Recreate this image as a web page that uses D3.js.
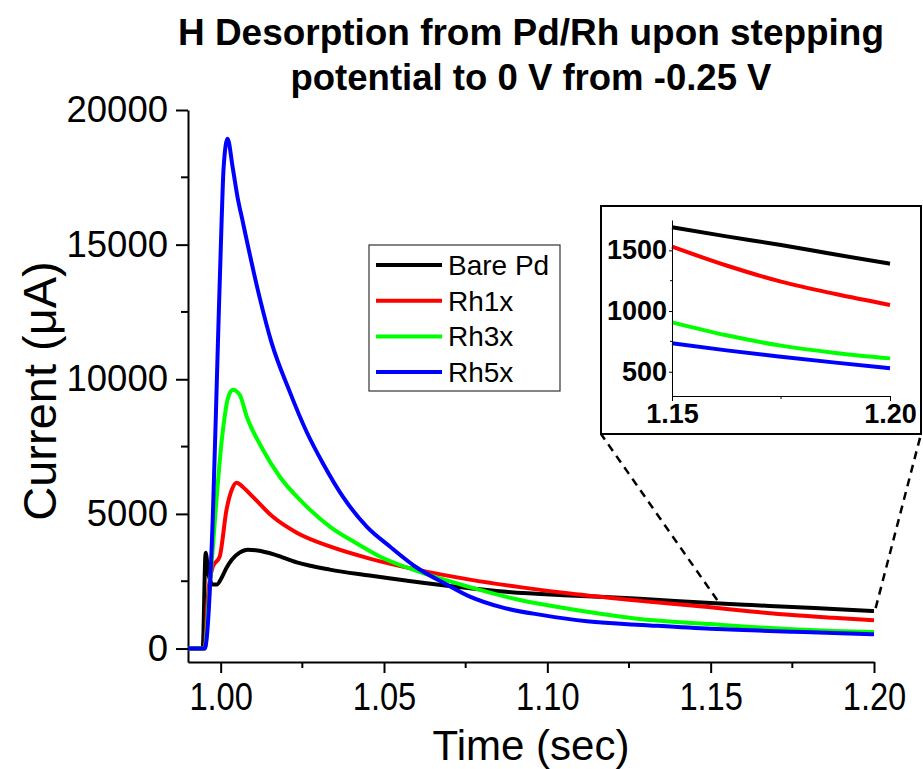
<!DOCTYPE html>
<html>
<head>
<meta charset="utf-8">
<script src="https://cdn.jsdelivr.net/npm/d3@7"></script>
<style>
  body { margin: 0; background: #fff; }
  svg { font-family: Arial, "Liberation Sans", sans-serif; }
</style>
</head>
<body>
<svg id="chart" width="923" height="769"></svg>
<script>
// values
const names = ['Bare Pd', 'Rh1x', 'Rh3x', 'Rh5x']
const colors = ['#000000', '#ff0000', '#00ff00', '#0000ff']

const tBare = [0.99, 0.9945, 0.9954, 0.9963, 0.9976, 0.9988, 1.0003, 1.0018, 1.0034, 1.0058, 1.0083, 1.0113, 1.0165, 1.0233, 1.0334, 1.0456, 1.0662, 1.0864, 1.1069, 1.1283, 1.15, 1.1625, 1.175, 1.1875, 1.20]
const iBare = [0, 0, 3560, 2750, 2375, 2375, 2630, 3000, 3300, 3560, 3670, 3640, 3490, 3200, 2930, 2710, 2375, 2115, 1970, 1850, 1690, 1615, 1544, 1465, 1390]

const tRh1 = [0.99, 0.9951, 0.996, 0.9976, 0.9997, 1.0018, 1.0034, 1.0049, 1.0067, 1.0098, 1.0159, 1.0233, 1.0334, 1.0456, 1.06, 1.0763, 1.0916, 1.1069, 1.1283, 1.15, 1.1625, 1.175, 1.1875, 1.20]
const iRh1 = [0, 0, 1800, 3040, 3410, 5160, 5900, 6160, 6010, 5640, 4900, 4300, 3790, 3340, 2930, 2560, 2280, 2040, 1770, 1530, 1375, 1242, 1140, 1050]

const tRh3 = [0.99, 0.9951, 0.9966, 1.0006, 1.0021, 1.0037, 1.0058, 1.008, 1.0129, 1.0181, 1.0251, 1.0334, 1.0417, 1.0487, 1.06, 1.0763, 1.0916, 1.1069, 1.1283, 1.15, 1.1625, 1.175, 1.1875, 1.20]
const iRh3 = [0, 0, 2190, 8020, 9240, 9610, 9430, 8610, 7390, 6380, 5420, 4530, 3900, 3420, 2880, 2280, 1800, 1470, 1100, 907, 800, 715, 655, 610]

const tRh5 = [0.99, 0.9951, 0.9976, 0.9991, 1.0003, 1.0009, 1.0021, 1.0037, 1.0052, 1.0067, 1.008, 1.0119, 1.0156, 1.0211, 1.0263, 1.0312, 1.0374, 1.0447, 1.0518, 1.06, 1.0692, 1.0763, 1.0864, 1.0986, 1.1121, 1.1314, 1.15, 1.1625, 1.175, 1.1875, 1.20]
const iRh5 = [0, 0, 4900, 11100, 15920, 17850, 18930, 17850, 16740, 15890, 15150, 13050, 11350, 9550, 8050, 6900, 5640, 4530, 3790, 3010, 2380, 1930, 1520, 1240, 1010, 860, 734, 676, 624, 575, 528]

const xTicks = [1.00, 1.05, 1.10, 1.15, 1.20]
const xMinor = [1.025, 1.075, 1.125, 1.175]
const yTicks = [0, 5000, 10000, 15000, 20000]
const yMinor = [2500, 7500, 12500, 17500]
const insetYTicks = [500, 1000, 1500]
const insetYMinor = [750, 1250]
const insetXTicks = [1.15, 1.20]
const insetXMinor = [1.175]

const series = [
  {name: names[0], color: colors[0], t: tBare, i: iBare},
  {name: names[1], color: colors[1], t: tRh1, i: iRh1},
  {name: names[2], color: colors[2], t: tRh3, i: iRh3},
  {name: names[3], color: colors[3], t: tRh5, i: iRh5}
].map(s => ({...s, pts: s.t.map((t, k) => [t, s.i[k]])}))

const svg = d3.select('#chart')

let x = d3.scaleLinear().domain([0.99, 1.20]).range([188, 874])
let y = d3.scaleLinear().domain([-500, 20000]).range([662, 110])

// main axes
let xAxis = svg.append('g').attr('transform', 'translate(0,662)')
  .call(d3.axisBottom(x).tickValues(xTicks).tickFormat(d3.format('.2f')).tickSize(11).tickPadding(10).tickSizeOuter(0))
xAxis.append('g').selectAll('line').data(xMinor).enter().append('line')
  .attr('x1', d => x(d)).attr('x2', d => x(d)).attr('y1', 0).attr('y2', 6)
  .attr('stroke', '#000').attr('stroke-width', 2)
xAxis.selectAll('.tick text').attr('font-size', 38).attr('fill', '#000')
  .attr('transform', 'scale(0.86,1)')

let yAxis = svg.append('g').attr('transform', 'translate(188,0)')
  .call(d3.axisLeft(y).tickValues(yTicks).tickFormat(d3.format('d')).tickSize(12).tickPadding(8).tickSizeOuter(0))
yAxis.append('g').selectAll('line').data(yMinor).enter().append('line')
  .attr('y1', d => y(d)).attr('y2', d => y(d)).attr('x1', 0).attr('x2', -7)
  .attr('stroke', '#000').attr('stroke-width', 2)
yAxis.selectAll('.tick text').attr('font-size', 36.5).attr('fill', '#000')

svg.selectAll('.domain, .tick line').attr('stroke', '#000').attr('stroke-width', 2)

let line = d3.line().x(d => x(d[0])).y(d => y(d[1])).curve(d3.curveMonotoneX)

svg.append('g').selectAll('path').data(series).enter().append('path')
  .attr('d', d => line(d.pts))
  .attr('fill', 'none')
  .attr('stroke', d => d.color)
  .attr('stroke-width', 4)
  .attr('stroke-linejoin', 'round')

// titles
svg.append('text').attr('x', 531).attr('y', 45).attr('text-anchor', 'middle')
  .attr('font-size', 37).attr('font-weight', 'bold')
  .attr('textLength', 706).attr('lengthAdjust', 'spacingAndGlyphs')
  .text('H Desorption from Pd/Rh upon stepping')
svg.append('text').attr('x', 531).attr('y', 90).attr('text-anchor', 'middle')
  .attr('font-size', 37).attr('font-weight', 'bold')
  .attr('textLength', 481).attr('lengthAdjust', 'spacingAndGlyphs')
  .text('potential to 0 V from -0.25 V')

svg.append('text').attr('x', 531).attr('y', 760).attr('text-anchor', 'middle')
  .attr('font-size', 42).text('Time (sec)')
svg.append('text').attr('transform', 'translate(56,391) rotate(-90)').attr('text-anchor', 'middle')
  .attr('font-size', 47).text('Current (\u03bcA)')

// legend
let legend = svg.append('g').attr('transform', 'translate(369,245)')
legend.append('rect').attr('width', 191).attr('height', 146)
  .attr('fill', '#fff').attr('stroke', '#333').attr('stroke-width', 1.2)
let items = legend.selectAll('.item').data(series).enter().append('g')
  .attr('transform', (d, k) => `translate(0,${20 + k * 35.7})`)
items.append('line').attr('x1', 7).attr('x2', 73).attr('stroke', d => d.color).attr('stroke-width', 4)
items.append('text').attr('x', 79).attr('y', 10).attr('font-size', 28).text(d => d.name)

// zoom connectors
let ix = d3.scaleLinear().domain([1.15, 1.20]).range([672, 890])
let iy = d3.scaleLinear().domain([300, 1750]).range([396, 220])

let connectors = [
  [[x(1.152), y(1800)], [601, 434]],
  [[x(1.2005), y(1500)], [921, 434]]
]
svg.append('g').selectAll('line').data(connectors).enter().append('line')
  .attr('x1', d => d[0][0]).attr('y1', d => d[0][1])
  .attr('x2', d => d[1][0]).attr('y2', d => d[1][1])
  .attr('stroke', '#000').attr('stroke-width', 2.5).attr('stroke-dasharray', '8,6')

// inset
let inset = svg.append('g')
inset.append('rect').attr('x', 601).attr('y', 206).attr('width', 320).attr('height', 228)
  .attr('fill', '#fff').attr('stroke', '#000').attr('stroke-width', 2)

let iline = d3.line().x(d => ix(d[0])).y(d => iy(d[1])).curve(d3.curveMonotoneX)
inset.append('g').selectAll('path').data(series).enter().append('path')
  .attr('d', d => iline(d.pts.filter(p => p[0] >= 1.15)))
  .attr('fill', 'none').attr('stroke', d => d.color).attr('stroke-width', 4)

let ixAxis = inset.append('g').attr('transform', 'translate(0,396)')
  .call(d3.axisBottom(ix).tickValues(insetXTicks).tickFormat(d3.format('.2f')).tickSize(5).tickPadding(3).tickSizeOuter(0))
ixAxis.append('g').selectAll('line').data(insetXMinor).enter().append('line')
  .attr('x1', d => ix(d)).attr('x2', d => ix(d)).attr('y1', 0).attr('y2', 3)
  .attr('stroke', '#000')
ixAxis.selectAll('.tick text').attr('font-size', 27).attr('font-weight', 'bold').attr('fill', '#000')

let iyAxis = inset.append('g').attr('transform', 'translate(672,0)')
  .call(d3.axisLeft(iy).tickValues(insetYTicks).tickFormat(d3.format('d')).tickSize(3).tickPadding(2).tickSizeOuter(0))
iyAxis.append('g').selectAll('line').data(insetYMinor).enter().append('line')
  .attr('y1', d => iy(d)).attr('y2', d => iy(d)).attr('x1', 0).attr('x2', -2)
  .attr('stroke', '#000')
iyAxis.selectAll('.tick text').attr('font-size', 27).attr('font-weight', 'bold').attr('fill', '#000')
inset.selectAll('.domain, .tick line').attr('stroke', '#000').attr('stroke-width', 1)
</script>
</body>
</html>
